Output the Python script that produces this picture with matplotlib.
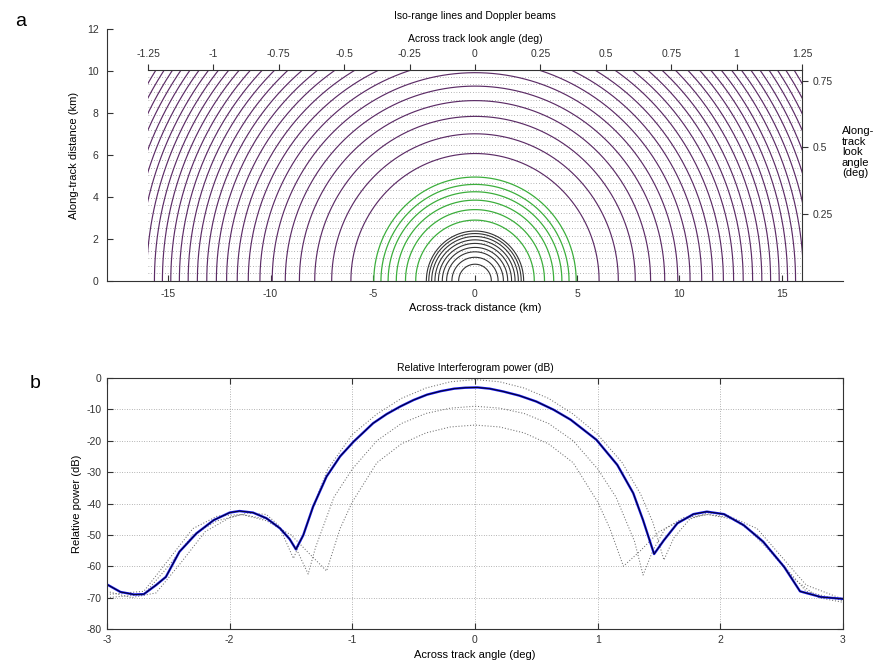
import numpy as np
import matplotlib
matplotlib.use("Agg")
import matplotlib.pyplot as plt
from matplotlib.patches import Rectangle

plt.rcParams['font.family'] = ['Liberation Sans', 'DejaVu Sans']
plt.rcParams['axes.unicode_minus'] = False
FS = 7.5

# ---------------- Data: panel a ----------------
black_radii_km = [0.8, 1.13, 1.39, 1.6, 1.79, 1.96, 2.12, 2.26, 2.38]
green_radii_km = [2.9, 3.4, 3.85, 4.25, 4.6, 4.95]
purple_radii_km = [6.07, 7.01, 7.84, 8.59, 9.28, 9.92, 10.52, 11.09, 11.63, 12.15,
                   12.65, 13.12, 13.58, 14.03, 14.46, 14.88, 15.29, 15.68, 16.07,
                   16.45, 16.82, 17.18, 17.54, 17.88, 18.22, 18.56, 18.89]
doppler_rows_km = [0.36, 0.72, 1.08, 1.44, 1.8, 2.16, 2.52, 2.88, 3.24, 3.6, 3.96,
                   4.32, 4.68, 5.04, 5.4, 5.76, 6.12, 6.48, 6.84, 7.2, 7.56, 7.92,
                   8.28, 8.64, 9.0, 9.36, 9.72]
top_ticks_deg = [-1.25, -1, -0.75, -0.5, -0.25, 0, 0.25, 0.5, 0.75, 1, 1.25]
top_tick_labels = ['-1.25', '-1', '-0.75', '-0.5', '-0.25', '0', '0.25', '0.5', '0.75', '1', '1.25']
right_ticks_deg = [0.25, 0.5, 0.75]
right_tick_labels = ['0.25', '0.5', '0.75']

# ---------------- Data: panel b ----------------
main_x = [-3.0, -2.89, -2.78, -2.70, -2.60, -2.52, -2.41, -2.27, -2.13, -2.0, -1.92,
          -1.81, -1.70, -1.59, -1.51, -1.46, -1.40, -1.32, -1.21, -1.10, -0.99, -0.83,
          -0.72, -0.61, -0.50, -0.39, -0.28, -0.17, -0.08, 0.02, 0.12, 0.23, 0.36, 0.50,
          0.64, 0.78, 0.99, 1.16, 1.29, 1.37, 1.46,
          1.54, 1.65, 1.78, 1.89, 2.03, 2.19, 2.35, 2.52, 2.65, 2.82, 3.0]
main_db = [-65.8, -68.2, -69.0, -68.9, -66.0, -63.4, -55.4, -49.5, -45.3, -42.9, -42.4,
           -42.9, -44.7, -47.9, -51.4, -54.6, -50.1, -41.0, -31.4, -25.0, -20.3, -14.4,
           -11.5, -9.1, -7.0, -5.3, -4.2, -3.4, -3.1, -3.0, -3.4, -4.3, -5.6, -7.5,
           -10.1, -13.3, -19.7, -27.7, -36.7, -45.3, -56.1,
           -51.7, -46.3, -43.4, -42.6, -43.4, -46.9, -52.2, -60.2, -68.0, -69.8, -70.4]

d1_x = [-3.0, -2.8, -2.6, -2.4, -2.2, -2.0, -1.85, -1.7, -1.6, -1.48, -1.4, -1.3, -1.2,
        -1.0, -0.8, -0.6, -0.4, -0.2, 0.0, 0.2, 0.4, 0.6, 0.8, 1.0, 1.2, 1.35, 1.45,
        1.54, 1.62, 1.75, 1.9, 2.05, 2.2, 2.4, 2.6, 2.8, 3.0]
d1_db = [-68, -70, -68.5, -59, -49, -44.5, -43, -43.5, -47, -57.5, -50, -39, -29,
         -18, -11.5, -6.5, -3.2, -1.2, -0.5, -1.2, -3.2, -6.5, -11.5, -18, -27, -37,
         -46, -58, -51, -45, -43, -43.5, -47, -55, -64, -70, -71.5]

d2_x = [-3.0, -2.7, -2.5, -2.3, -2.1, -1.9, -1.7, -1.55, -1.45, -1.36, -1.3, -1.15,
        -1.0, -0.8, -0.6, -0.4, -0.2, 0.0, 0.2, 0.4, 0.6, 0.8, 1.0, 1.15, 1.3, 1.37,
        1.45, 1.55, 1.7, 1.9, 2.1, 2.3, 2.5, 2.7, 3.0]
d2_db = [-70, -69, -60, -50, -45.5, -43.5, -45, -49, -55, -62.5, -54, -38,
         -29, -20, -14.5, -11.3, -9.6, -9.0, -9.6, -11.3, -14.5, -20, -29, -38, -52, -62.8,
         -55, -48, -44.5, -43.5, -45, -50, -59, -68, -71]

d3_x = [-3.0, -2.7, -2.5, -2.3, -2.1, -1.9, -1.7, -1.5, -1.35, -1.21, -1.1, -1.0,
        -0.8, -0.6, -0.4, -0.2, 0.0, 0.2, 0.4, 0.6, 0.8, 1.0, 1.1, 1.21, 1.35, 1.5,
        1.7, 1.9, 2.1, 2.3, 2.5, 2.7, 3.0]
d3_db = [-69, -68, -58, -48, -44, -43.5, -45.5, -50, -56, -61.5, -48, -39.5,
         -27, -21, -17.5, -15.6, -15.0, -15.6, -17.5, -21, -27, -39.5, -48, -60, -55, -49,
         -45, -43.5, -44.5, -48, -57, -66, -70.5]

x_ticks_b = [-3, -2, -1, 0, 1, 2, 3]
y_ticks_b = [-80, -70, -60, -50, -40, -30, -20, -10, 0]

# ---------------- Figure ----------------
W, H = 874, 661
fig = plt.figure(figsize=(W / 100, H / 100), dpi=100)


def rect(l, t, r, b):
    return [l / W, 1 - b / H, (r - l) / W, (b - t) / H]


# ---- Panel a main axes (km) ----
ax = fig.add_axes(rect(107, 29, 843, 281))
ax.set_xlim(-18, 18)
ax.set_ylim(0, 12)
for s in ['top', 'right']:
    ax.spines[s].set_visible(False)
for s in ['left', 'bottom']:
    ax.spines[s].set_linewidth(0.8)
    ax.spines[s].set_color('#333333')
ax.set_xticks([-15, -10, -5, 0, 5, 10, 15])
ax.set_yticks([0, 2, 4, 6, 8, 10, 12])
ax.tick_params(direction='in', length=4, labelsize=FS, colors='#333333', pad=6)
ax.set_xlabel('Across-track distance (km)', fontsize=8, labelpad=3)
ax.set_ylabel('Along-track distance (km)', fontsize=8, labelpad=6)
ax.set_title('Iso-range lines and Doppler beams', fontsize=FS, pad=7)

clip = Rectangle((-16, 0), 32, 10, transform=ax.transData, facecolor='none', edgecolor='none')
ax.add_patch(clip)

theta = np.linspace(0, np.pi, 400)
for y in doppler_rows_km:
    ax.plot([-16, 16], [y, y], color='#8a8a8a', ls=(0, (1, 2.6)), lw=0.55, zorder=1)
for r in purple_radii_km:
    ln, = ax.plot(r * np.cos(theta), r * np.sin(theta), color='#5c2c66', lw=0.85, zorder=2)
    ln.set_clip_path(clip)
for r in green_radii_km:
    ln, = ax.plot(r * np.cos(theta), r * np.sin(theta), color='#3cae3c', lw=0.9, zorder=2)
    ln.set_clip_path(clip)
for r in black_radii_km:
    ln, = ax.plot(r * np.cos(theta), r * np.sin(theta), color='#333333', lw=0.8, zorder=2)
    ln.set_clip_path(clip)

# ---- Panel a secondary axes (deg) ----
ax2 = fig.add_axes(rect(148, 70, 802, 281))
ax2.patch.set_alpha(0)
ax2.set_xlim(-1.25, 1.25)
ax2.set_ylim(0, 0.79)
for s in ['left', 'bottom']:
    ax2.spines[s].set_visible(False)
for s in ['top', 'right']:
    ax2.spines[s].set_linewidth(0.8)
    ax2.spines[s].set_color('#333333')
ax2.xaxis.tick_top()
ax2.xaxis.set_label_position('top')
ax2.yaxis.tick_right()
ax2.set_xticks(top_ticks_deg)
ax2.set_xticklabels(top_tick_labels)
ax2.set_yticks(right_ticks_deg)
ax2.set_yticklabels(right_tick_labels)
ax2.tick_params(direction='out', length=4, labelsize=FS, colors='#333333', pad=4)
ax2.set_xlabel('Across track look angle (deg)', fontsize=FS, labelpad=5)
ax2.text(1.061, 0.61, 'Along-\ntrack\nlook\nangle\n(deg)', transform=ax2.transAxes,
         ha='left', va='center', fontsize=8, linespacing=1.05)

# ---- Panel b ----
bx = fig.add_axes(rect(107, 378, 843, 629))
bx.set_xlim(-3, 3)
bx.set_ylim(-80, 0)
bx.set_xticks(x_ticks_b)
bx.set_yticks(y_ticks_b)
bx.grid(True, color='#888888', ls=(0, (1, 2.2)), lw=0.55)
for s in bx.spines.values():
    s.set_linewidth(0.8)
    s.set_color('#333333')
bx.tick_params(direction='in', length=4, labelsize=FS, colors='#333333',
               top=True, right=True, pad=4)
for dx, dy in [(d1_x, d1_db), (d2_x, d2_db), (d3_x, d3_db)]:
    bx.plot(dx, dy, color='#707070', ls=(0, (1, 1.8)), lw=0.75)
bx.plot(main_x, main_db, color='#1515e6', lw=1.7, solid_capstyle='round', solid_joinstyle='round')
bx.plot(main_x, main_db, color='black', lw=0.55, solid_joinstyle='round')
bx.set_title('Relative Interferogram power (dB)', fontsize=FS, pad=5)
bx.set_xlabel('Across track angle (deg)', fontsize=8, labelpad=4)
bx.set_ylabel('Relative power (dB)', fontsize=8, labelpad=3)

fig.text(15 / W, 1 - 22 / H, 'a', fontsize=14, ha='left', va='center')
fig.text(30 / W, 1 - 383 / H, 'b', fontsize=14, ha='left', va='center')

fig.savefig('out.png', dpi=100)
